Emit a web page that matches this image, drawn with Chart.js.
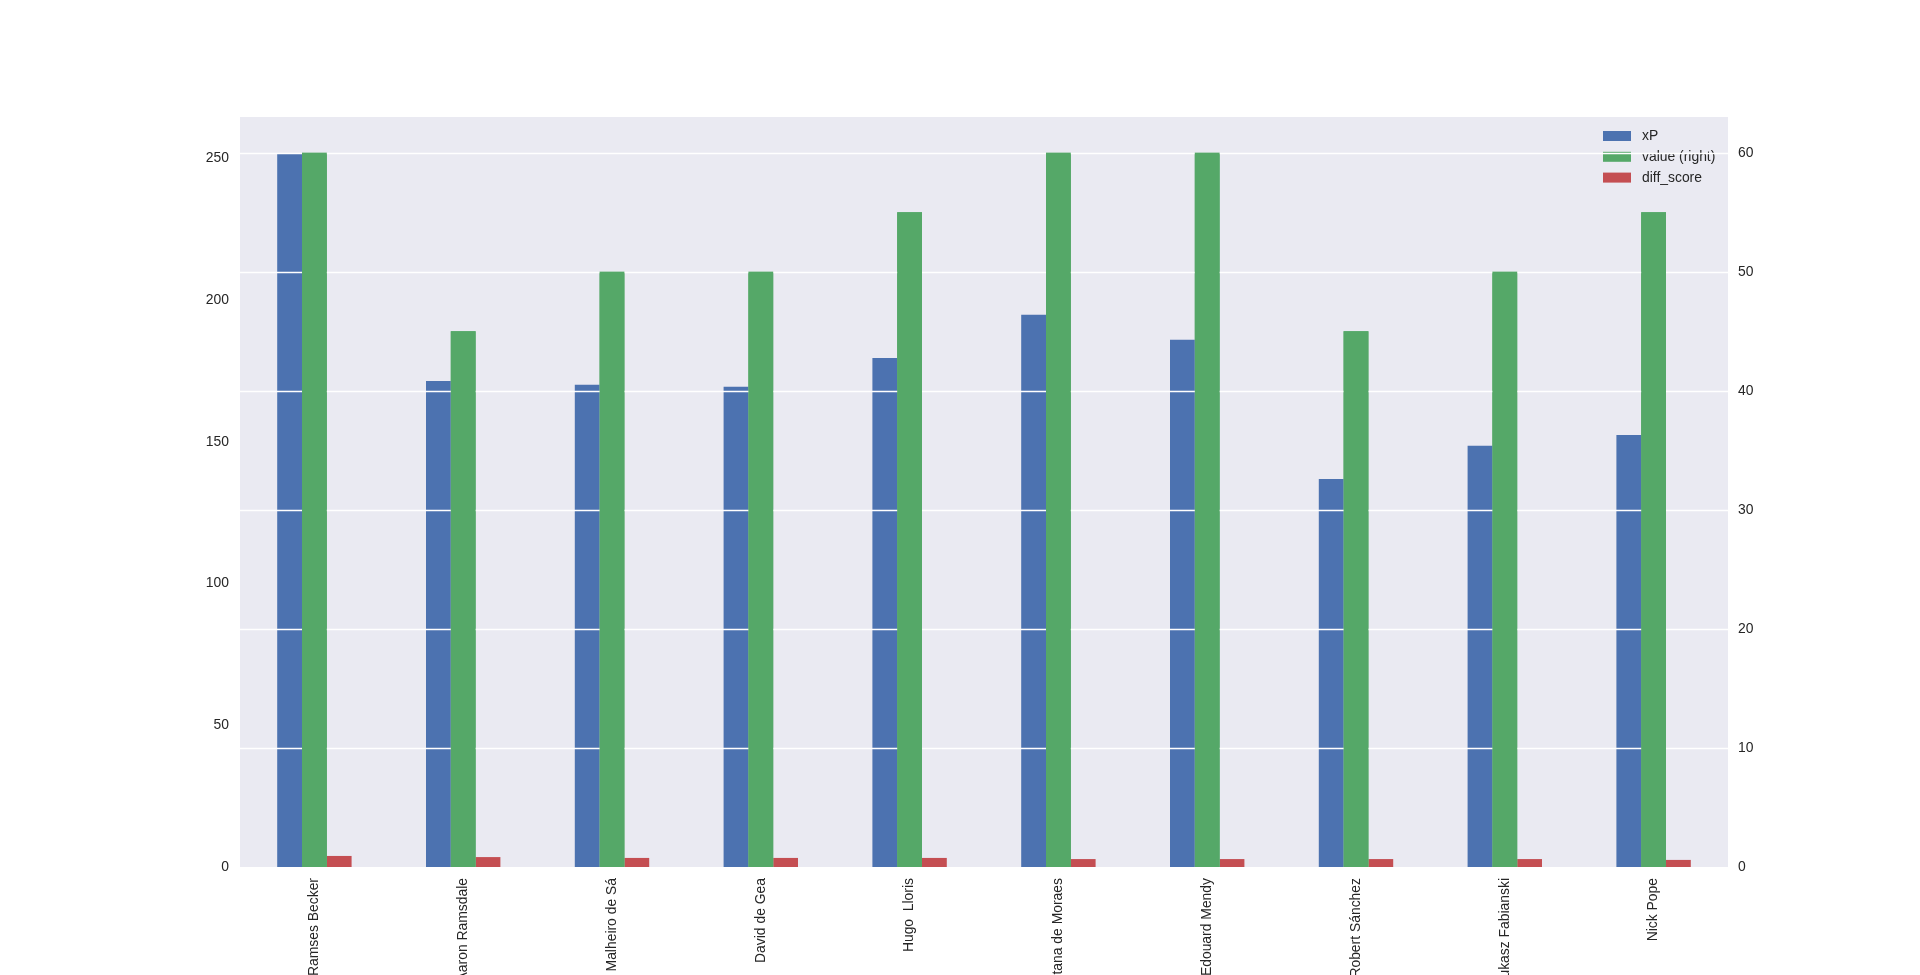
<!DOCTYPE html>
<html><head><meta charset="utf-8">
<script src="https://cdn.jsdelivr.net/npm/chart.js@4/dist/chart.umd.min.js"></script>
<style>html,body{margin:0;padding:0;background:#fff;overflow:hidden}</style>
</head><body><canvas id="c" width="1920" height="975"></canvas>
<script>
const players = ["Alisson Ramses Becker","Aaron Ramsdale","José Malheiro de Sá","David de Gea","Hugo  Lloris","Ederson Santana de Moraes","Edouard Mendy","Robert Sánchez","Łukasz Fabianski","Nick Pope"];
const xP = [251.6,171.5,170.1,169.4,179.6,194.8,186.0,136.9,148.6,152.4];
const value = [60,45,50,50,55,60,60,45,50,55];
const diffScore = [3.9,3.5,3.2,3.2,3.2,2.8,2.8,2.8,2.8,2.5];
const leftTicks = [0,50,100,150,200,250];
const rightTicks = [0,10,20,30,40,50,60];
const seriesNames = ["xP","value (right)","diff_score"];
const colors = ["#4C72B0","#55A868","#C44E52"];

const FONT = '"Liberation Sans", Arial, sans-serif';
const FS = 13.9;
const TXT = '#262626';

const bgPlugin = {
  id: 'bg',
  beforeDatasetsDraw(chart) {
    const a = chart.chartArea, ctx = chart.ctx;
    ctx.save();
    ctx.fillStyle = '#EAEAF2';
    ctx.fillRect(a.left, a.top, a.right - a.left, a.bottom - a.top);
    ctx.restore();
  }
};

const overlayPlugin = {
  id: 'overlay',
  afterDatasetsDraw(chart) {
    const a = chart.chartArea, ctx = chart.ctx;
    ctx.save();
    // legend (matplotlib style, no frame)
    ctx.font = FS + 'px ' + FONT;
    ctx.textBaseline = 'middle';
    chart.data.datasets.forEach((ds, i) => {
      const y = a.top + 19 + i * 20.8;
      ctx.fillStyle = ds.backgroundColor;
      ctx.fillRect(a.right - 125, y - 5, 28, 10);
      ctx.fillStyle = TXT;
      ctx.fillText(ds.label, a.right - 86, y + 0.5);
    });
    // secondary-axis grid drawn over the primary-axis bars
    const ys = chart.scales.y1;
    ctx.strokeStyle = '#ffffff';
    ctx.lineWidth = 1.4;
    rightTicks.forEach(v => {
      if (v === 0) return;
      const py = Math.round(ys.getPixelForValue(v)) + 0.5;
      ctx.beginPath();
      ctx.moveTo(a.left, py);
      ctx.lineTo(a.right, py);
      ctx.stroke();
    });
    ctx.restore();
    // secondary-axis bars sit above that grid
    chart.getDatasetMeta(1).data.forEach(el => el.draw(ctx));
  }
};

new Chart(document.getElementById('c'), {
  type: 'bar',
  data: {
    labels: players,
    datasets: [
      { label: seriesNames[0], data: xP, backgroundColor: colors[0], yAxisID: 'y' },
      { label: seriesNames[1], data: value, backgroundColor: colors[1], yAxisID: 'y1' },
      { label: seriesNames[2], data: diffScore, backgroundColor: colors[2], yAxisID: 'y' }
    ]
  },
  options: {
    responsive: false,
    animation: false,
    devicePixelRatio: 1,
    categoryPercentage: 0.5,
    barPercentage: 1.0,
    layout: { padding: { left: 180, right: 132, top: 117, bottom: 0 } },
    plugins: { legend: { display: false }, tooltip: { enabled: false } },
    scales: {
      x: {
        grid: { display: false, drawTicks: false },
        border: { display: false },
        ticks: { autoSkip: false, minRotation: 90, maxRotation: 90, padding: 11, color: TXT, font: { family: FONT, size: FS } },
        afterFit(s) { s.height = 108; }
      },
      y: {
        position: 'left',
        min: 0, max: 264.6,
        grid: { display: false, drawTicks: false },
        border: { display: false },
        ticks: { padding: 11, color: TXT, font: { family: FONT, size: FS } },
        afterBuildTicks(s) { s.ticks = leftTicks.map(v => ({ value: v })); },
        afterFit(s) { s.width = 60; }
      },
      y1: {
        position: 'right',
        min: 0, max: 63,
        grid: { display: false, drawTicks: false },
        border: { display: false },
        ticks: { padding: 10, color: TXT, font: { family: FONT, size: FS } },
        afterBuildTicks(s) { s.ticks = rightTicks.map(v => ({ value: v })); },
        afterFit(s) { s.width = 60; }
      }
    }
  },
  plugins: [bgPlugin, overlayPlugin]
});
</script>
</body></html>
